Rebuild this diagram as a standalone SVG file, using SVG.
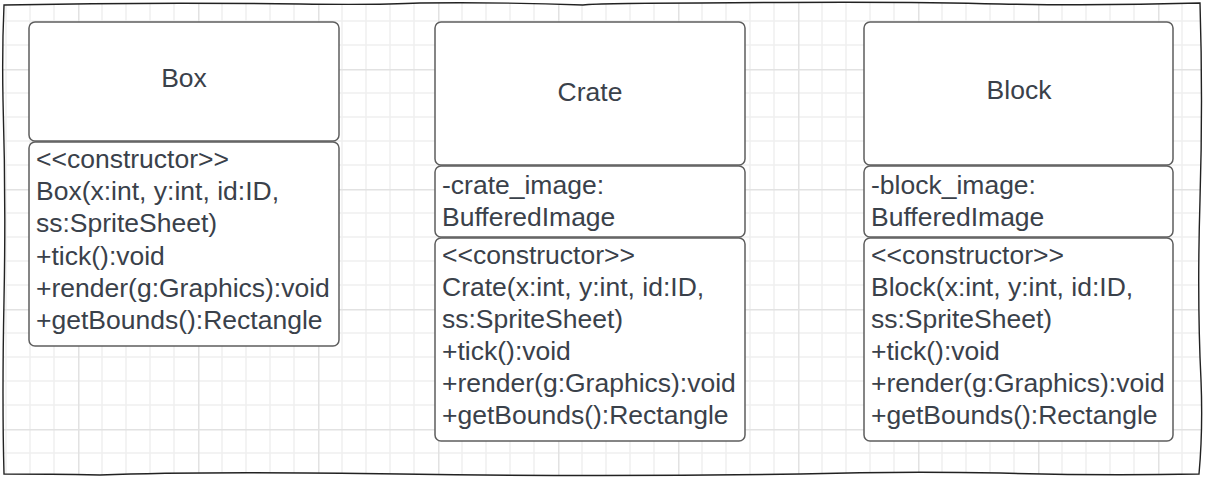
<svg xmlns="http://www.w3.org/2000/svg" width="1205" height="478" viewBox="0 0 1205 478">
<style>
.frame{fill:url(#grid);stroke:#222;stroke-width:1.4}
.shape{fill:#fff;stroke:#5e5e5e;stroke-width:1.5}
.t{font-family:"Liberation Sans",Arial,sans-serif;font-size:26.5px;fill:#3a414a}
.c{text-anchor:middle}
</style>
<defs>
<pattern id="grid" patternUnits="userSpaceOnUse" x="78" y="69" width="120" height="120">
<rect width="120" height="120" fill="#fff"/>
<g stroke="#efefef" stroke-width="1.5">
<line x1="24" y1="0" x2="24" y2="120"/><line x1="48" y1="0" x2="48" y2="120"/><line x1="72" y1="0" x2="72" y2="120"/><line x1="96" y1="0" x2="96" y2="120"/>
<line x1="0" y1="24" x2="120" y2="24"/><line x1="0" y1="48" x2="120" y2="48"/><line x1="0" y1="72" x2="120" y2="72"/><line x1="0" y1="96" x2="120" y2="96"/>
</g>
<g stroke="#e2e2e2" stroke-width="1.5">
<line x1="0.75" y1="0" x2="0.75" y2="120"/><line x1="0" y1="0.75" x2="120" y2="0.75"/>
</g>
</pattern>
</defs>
<path class="frame" d="M4,5 Q150,2 300,4 Q380,5 420,3 Q500,2 583,5 Q600,3 700,3 Q900,1 1000,4 Q1100,6 1200,3 Q1203,100 1200,200 Q1197,300 1201,380 Q1203,430 1199,474 Q1100,476 1000,473 Q900,471 800,474 Q600,477 400,474 Q200,471 100,475 Q50,474 4,474 Q2,400 4,300 Q6,200 3,100 Q2,50 4,5 Z"/>
<g id="connectors"/>
<g id="box">
<rect class="shape" x="29" y="22" width="310" height="119" rx="6"/>
<rect class="shape" x="29" y="142" width="310" height="204" rx="6"/>
<text class="t c" x="184" y="87">Box</text>
<text class="t" x="36" y="168">&lt;&lt;constructor&gt;&gt;</text>
<text class="t" x="36" y="200">Box(x:int, y:int, id:ID,</text>
<text class="t" x="36" y="232">ss:SpriteSheet)</text>
<text class="t" x="36" y="265">+tick():void</text>
<text class="t" x="36" y="297">+render(g:Graphics):void</text>
<text class="t" x="36" y="329">+getBounds():Rectangle</text>
</g>
<g id="crate">
<rect class="shape" x="435" y="22" width="310" height="143" rx="6"/>
<rect class="shape" x="435" y="166" width="310" height="71" rx="6"/>
<rect class="shape" x="435" y="238" width="310" height="203" rx="6"/>
<text class="t c" x="590" y="101">Crate</text>
<text class="t" x="442" y="194">-crate_image:</text>
<text class="t" x="442" y="226">BufferedImage</text>
<text class="t" x="442" y="264">&lt;&lt;constructor&gt;&gt;</text>
<text class="t" x="442" y="296">Crate(x:int, y:int, id:ID,</text>
<text class="t" x="442" y="328">ss:SpriteSheet)</text>
<text class="t" x="442" y="360">+tick():void</text>
<text class="t" x="442" y="392">+render(g:Graphics):void</text>
<text class="t" x="442" y="424">+getBounds():Rectangle</text>
</g>
<g id="block">
<rect class="shape" x="864" y="22" width="309" height="143" rx="6"/>
<rect class="shape" x="864" y="166" width="309" height="71" rx="6"/>
<rect class="shape" x="864" y="238" width="309" height="203" rx="6"/>
<text class="t c" x="1019" y="99">Block</text>
<text class="t" x="871" y="194">-block_image:</text>
<text class="t" x="871" y="226">BufferedImage</text>
<text class="t" x="871" y="264">&lt;&lt;constructor&gt;&gt;</text>
<text class="t" x="871" y="296">Block(x:int, y:int, id:ID,</text>
<text class="t" x="871" y="328">ss:SpriteSheet)</text>
<text class="t" x="871" y="360">+tick():void</text>
<text class="t" x="871" y="392">+render(g:Graphics):void</text>
<text class="t" x="871" y="424">+getBounds():Rectangle</text>
</g>
</svg>
